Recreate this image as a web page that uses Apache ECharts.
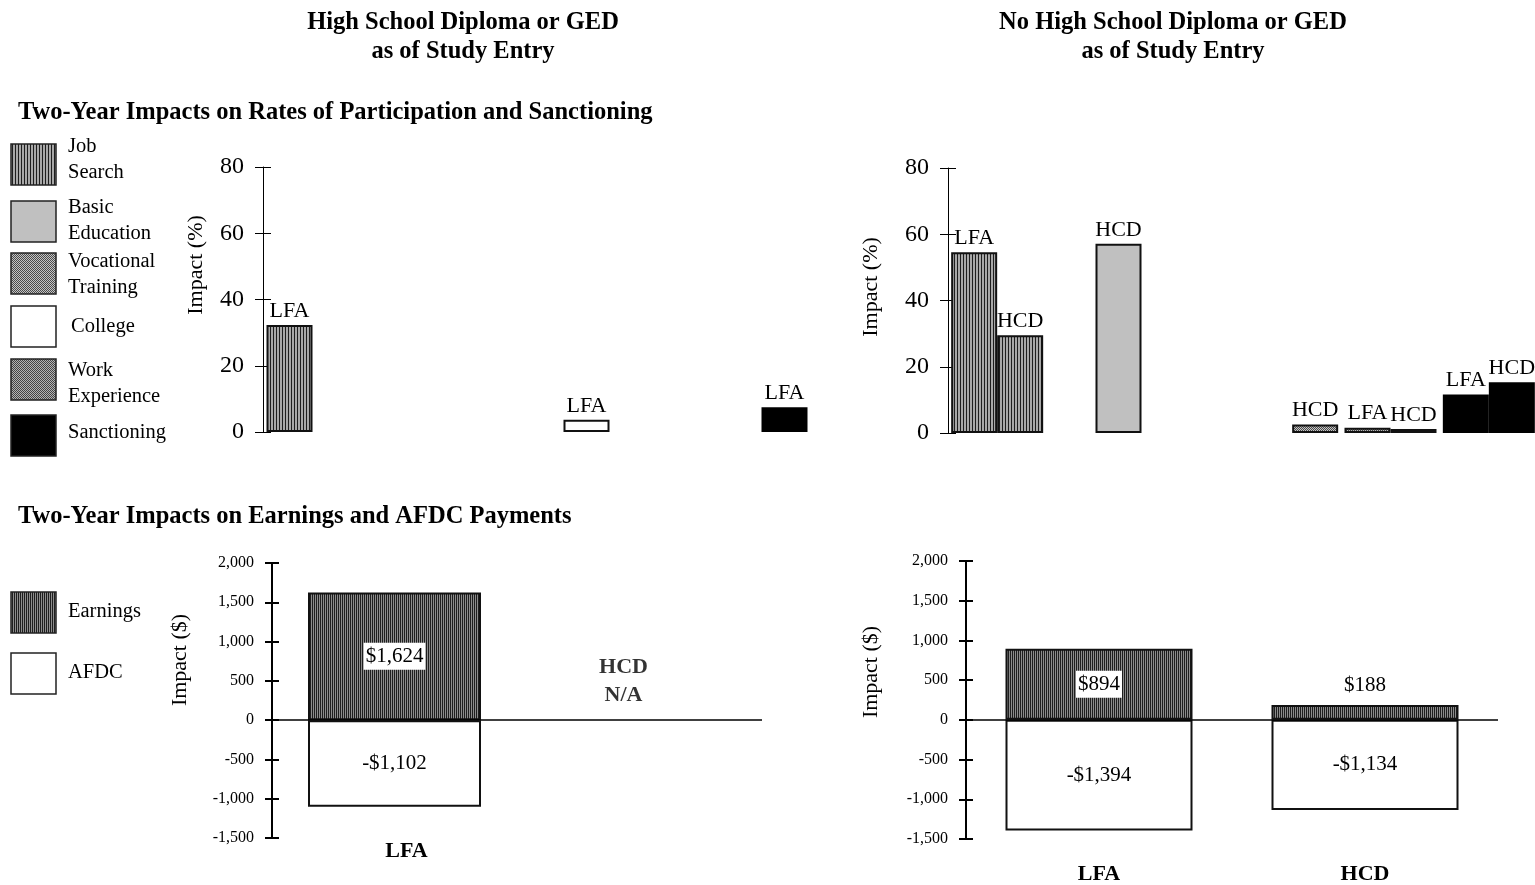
<!DOCTYPE html>
<html><head><meta charset="utf-8">
<script src="https://cdn.jsdelivr.net/npm/echarts@6/dist/echarts.min.js"></script>
<style>html,body{margin:0;padding:0;background:#fff}#c{width:1535px;height:885px}</style>
</head><body><div id="c"></div>
<script>
// ---------------- DATA ----------------
const panelTitles = ['High School Diploma or GED\nas of Study Entry', 'No High School Diploma or GED\nas of Study Entry'];
const sectionTitles = ['Two-Year Impacts on Rates of Participation and Sanctioning', 'Two-Year Impacts on Earnings and AFDC Payments'];
const activityLegend = ['Job\nSearch', 'Basic\nEducation', 'Vocational\nTraining', 'College', 'Work\nExperience', 'Sanctioning'];
const activityKeys = ['Job Search', 'Basic Education', 'Vocational Training', 'College', 'Work Experience', 'Sanctioning'];
const moneyLegend = ['Earnings', 'AFDC'];
const programs = ['LFA', 'HCD'];

const topLeftCats = ['Job Search', 'Basic Education', 'Vocational Training', 'College', 'Work Experience', 'Sanctioning'];
const topLeftLFA = [32.3, null, null, 3.7, null, 7.5];
const topLeftHCD = [null, null, null, null, null, null];

const topRightCats = ['Job Search', 'Basic Education', 'College', 'Vocational Training', 'Work Experience', 'Sanctioning'];
const topRightLFA = [54.6, null, null, null, 1.6, 11.6];
const topRightHCD = [29.5, 57.1, null, 2.6, 1.2, 15.3];

const pctMin = 0, pctMax = 80, pctStep = 20;
const usdMin = -1500, usdMax = 2000, usdStep = 500;

const bottomCats = ['LFA', 'HCD'];
const bottomLeftEarnings = [1624, null];
const bottomLeftAFDC = [-1102, null];
const bottomRightEarnings = [894, 188];
const bottomRightAFDC = [-1394, -1134];

// ---------------- STYLES ----------------
const SERIF = "'Liberation Serif','Times New Roman',serif";
function pattern(w, h, bg, fg, cells) {
  const c = document.createElement('canvas'); c.width = w; c.height = h;
  const g = c.getContext('2d'); g.fillStyle = bg; g.fillRect(0, 0, w, h);
  g.fillStyle = fg; cells.forEach(p => g.fillRect(p[0], p[1], 1, 1));
  return { image: c, repeat: 'repeat' };
}
const fills = {
  'Job Search': pattern(3, 1, '#a8a8a8', '#1e1e1e', [[0, 0]]),
  'Basic Education': '#c0c0c0',
  'Vocational Training': pattern(2, 2, '#c4c4c4', '#4a4a4a', [[0, 0], [1, 1]]),
  'College': '#ffffff',
  'Work Experience': pattern(2, 2, '#b4b4b4', '#444444', [[0, 0], [1, 1]]),
  'Sanctioning': '#000000'
};
const earnFill = pattern(2, 1, '#8c8c8c', '#1e1e1e', [[0, 0]]);
const moneyFills = { 'Earnings': earnFill, 'AFDC': '#ffffff' };

function barData(vals, cats) {
  return vals.map((v, i) => v == null ? null : {
    value: v,
    itemStyle: { color: fills[cats[i]], borderColor: '#111', borderWidth: cats[i] === 'Sanctioning' ? 0 : 2 }
  });
}
const fmt = v => Math.abs(v).toLocaleString('en-US');

function pctAxes(gi) {
  return [{
    gridIndex: gi, type: 'value', position: 'left', min: pctMin, max: pctMax, interval: pctStep,
    axisLine: { show: true, lineStyle: { color: '#000', width: 1 } },
    axisTick: { show: true, length: 8, lineStyle: { color: '#000', width: 1 } },
    axisLabel: { fontFamily: SERIF, fontSize: 24, color: '#000', margin: 19 },
    splitLine: { show: false }
  }, {
    gridIndex: gi, type: 'value', position: 'left', min: pctMin, max: pctMax, interval: pctStep,
    axisLine: { show: false }, axisTick: { show: true, inside: true, length: 8, lineStyle: { color: '#000', width: 1 } },
    axisLabel: { show: false }, splitLine: { show: false }
  }];
}
function usdAxes(gi) {
  return [{
    gridIndex: gi, type: 'value', position: 'left', min: usdMin, max: usdMax, interval: usdStep,
    axisLine: { show: true, lineStyle: { color: '#000', width: 2 } },
    axisTick: { show: true, length: 7, lineStyle: { color: '#000', width: 2 } },
    axisLabel: { fontFamily: SERIF, fontSize: 16, color: '#000', margin: 18, formatter: v => (v < 0 ? '-' : '') + fmt(v) },
    splitLine: { show: false }
  }, {
    gridIndex: gi, type: 'value', position: 'left', min: usdMin, max: usdMax, interval: usdStep,
    axisLine: { show: false }, axisTick: { show: true, inside: true, length: 7, lineStyle: { color: '#000', width: 2 } },
    axisLabel: { show: false }, splitLine: { show: false }
  }];
}
function topSeries(name, vals, cats, xi, yi, bw) {
  return {
    type: 'bar', name, xAxisIndex: xi, yAxisIndex: yi, barWidth: bw, barGap: '0%',
    data: barData(vals, cats),
    label: { show: true, position: 'top', distance: 3, formatter: name, fontFamily: SERIF, fontSize: 22, color: '#000' },
    silent: true, animation: false
  };
}
function earnSeries(vals, xi, yi, bw) {
  return {
    type: 'bar', name: 'Earnings', xAxisIndex: xi, yAxisIndex: yi, barWidth: bw, barGap: '-100%',
    data: vals.map(v => v == null ? null : {
      value: v,
      label: v > 400
        ? { position: 'inside', backgroundColor: '#fff', padding: [4, 2, 2, 2] }
        : { position: 'top', distance: 9 }
    }),
    itemStyle: { color: earnFill, borderColor: '#111', borderWidth: 2 },
    label: { show: true, formatter: p => '$' + fmt(p.value), fontFamily: SERIF, fontSize: 21, color: '#000' },
    markLine: { silent: true, symbol: 'none', label: { show: false }, lineStyle: { color: '#000', width: 1.5, type: 'solid' }, data: [{ yAxis: 0 }] },
    silent: true, animation: false
  };
}
function afdcSeries(vals, xi, yi, bw) {
  return {
    type: 'bar', name: 'AFDC', xAxisIndex: xi, yAxisIndex: yi, barWidth: bw, barGap: '-100%',
    data: vals,
    itemStyle: { color: '#fff', borderColor: '#111', borderWidth: 2 },
    label: { show: true, position: 'inside', formatter: p => '-$' + fmt(p.value), fontFamily: SERIF, fontSize: 21, color: '#000' },
    silent: true, animation: false
  };
}
function botXAxis(gi, earnVals, margin, pad) {
  return {
    gridIndex: gi, type: 'category', data: bottomCats,
    axisLine: { show: false }, axisTick: { show: false },
    axisLabel: { fontFamily: SERIF, fontSize: 22, fontWeight: 'bold', color: '#000', margin, padding: pad,
      formatter: (v) => earnVals[bottomCats.indexOf(v)] == null ? '' : v }
  };
}

// ---------------- GRAPHICS (text/legend) ----------------
const T = (text, x, y, o) => Object.assign({ type: 'text', x, y, silent: true,
  style: Object.assign({ text, fontFamily: SERIF, fontSize: 21, fill: '#000', textAlign: 'left', verticalAlign: 'middle', lineHeight: 26 }, (o && o.style) || {}) },
  o && o.rotation != null ? { rotation: o.rotation } : {});
const graphics = [];
graphics.push(T(panelTitles[0], 463, 37, { style: { fontWeight: 'bold', fontSize: 24.5, textAlign: 'center', lineHeight: 29 } }));
graphics.push(T(panelTitles[1], 1173, 37, { style: { fontWeight: 'bold', fontSize: 24.5, textAlign: 'center', lineHeight: 29 } }));
graphics.push(T(sectionTitles[0], 18, 113, { style: { fontWeight: 'bold', fontSize: 24.5 } }));
graphics.push(T(sectionTitles[1], 18, 517, { style: { fontWeight: 'bold', fontSize: 24.5 } }));
const legBoxY = [144, 201, 253, 306, 359, 415];
const legTextY = [160, 221, 275, 327, 384, 433];
activityKeys.forEach((k, i) => {
  graphics.push({ type: 'rect', silent: true, shape: { x: 11, y: legBoxY[i], width: 45, height: 41 },
    style: { fill: fills[k], stroke: '#222', lineWidth: 1.5 } });
  graphics.push(T(activityLegend[i], k === 'College' ? 71 : 68, legTextY[i], { style: { fontSize: 20.5, lineHeight: 26 } }));
});
const mBoxY = [592, 653], mTextY = [612, 673];
moneyLegend.forEach((k, i) => {
  graphics.push({ type: 'rect', silent: true, shape: { x: 11, y: mBoxY[i], width: 45, height: 41 },
    style: { fill: moneyFills[k], stroke: '#222', lineWidth: 1.5 } });
  graphics.push(T(k, 68, mTextY[i], { style: { fontSize: 20.5 } }));
});
graphics.push(T('Impact (%)', 196, 265, { rotation: Math.PI / 2, style: { textAlign: 'center', fontSize: 22 } }));
graphics.push(T('Impact (%)', 871, 287, { rotation: Math.PI / 2, style: { textAlign: 'center', fontSize: 22 } }));
graphics.push(T('Impact ($)', 180, 660, { rotation: Math.PI / 2, style: { textAlign: 'center', fontSize: 22 } }));
graphics.push(T('Impact ($)', 871, 672, { rotation: Math.PI / 2, style: { textAlign: 'center', fontSize: 22 } }));

// N/A annotations for missing programs
const naSeries = {
  type: 'scatter', xAxisIndex: 2, yAxisIndex: 4, symbolSize: 0, silent: true, animation: false,
  data: bottomCats.map((c, i) => bottomLeftEarnings[i] == null ? [c, 500] : null).filter(Boolean),
  label: { show: true, position: 'inside', offset: [-16, 0], formatter: p => p.value[0] + '\nN/A', fontFamily: SERIF, fontSize: 22, fontWeight: 'bold', color: '#000', lineHeight: 28 }
};

const chart = echarts.init(document.getElementById('c'), null, { renderer: 'canvas' });
chart.setOption({
  backgroundColor: '#fff',
  animation: false,
  grid: [
    { left: 263, top: 167, width: 594, height: 265, outerBoundsMode: 'none' },
    { left: 948, top: 168, width: 590, height: 265, outerBoundsMode: 'none' },
    { left: 272, top: 563, width: 490, height: 275, outerBoundsMode: 'none' },
    { left: 966, top: 561, width: 532, height: 278, outerBoundsMode: 'none' }
  ],
  xAxis: [
    { gridIndex: 0, type: 'category', data: topLeftCats, show: false },
    { gridIndex: 1, type: 'category', data: topRightCats, show: false },
    botXAxis(2, bottomLeftEarnings, 2, [0, 0, 0, 24]),
    botXAxis(3, bottomRightEarnings, 24, [0, 0, 0, 0])
  ],
  yAxis: [...pctAxes(0), ...pctAxes(1), ...usdAxes(2), ...usdAxes(3)],
  series: [
    topSeries(programs[0], topLeftLFA, topLeftCats, 0, 0, 46),
    topSeries(programs[1], topLeftHCD, topLeftCats, 0, 0, 46),
    topSeries(programs[0], topRightLFA, topRightCats, 1, 2, 46),
    topSeries(programs[1], topRightHCD, topRightCats, 1, 2, 46),
    earnSeries(bottomLeftEarnings, 2, 4, 173),
    afdcSeries(bottomLeftAFDC, 2, 4, 173),
    earnSeries(bottomRightEarnings, 3, 6, 187),
    afdcSeries(bottomRightAFDC, 3, 6, 187),
    naSeries
  ],
  graphic: graphics
});
</script>
</body></html>
